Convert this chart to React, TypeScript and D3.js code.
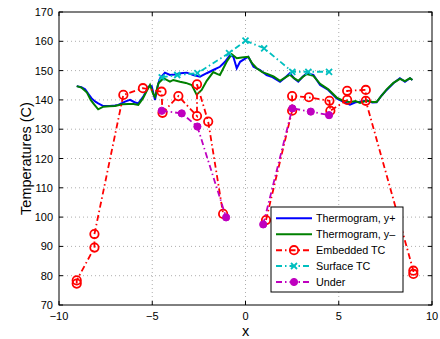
import React from "react";
import * as d3 from "d3";

const xTicks = [-10, -5, 0, 5, 10];
const yTicks = [70, 80, 90, 100, 110, 120, 130, 140, 150, 160, 170];

const bluX = [-9.05,-8.8,-8.6,-8.4,-8.25,-8.05,-7.9,-7.62,-7.27,-7.0,-6.82,-6.46,-6.19,-5.95,-5.75,-5.48,-5.21,-5.03,-4.85,-4.7,-4.58,-4.32,-4.05,-3.8,-3.51,-3.15,-2.8,-2.44,-2.08,-1.73,-1.37,-1.1,-0.83,-0.65,-0.47,-0.29,0,0.15,0.43,0.78,1.13,1.4,1.85,2.1,2.38,2.6,2.83,3.05,3.28,3.64,4.0,4.44,4.89,5.2,5.6,5.9,6.14,6.5,6.8,7.03,7.3,7.57,7.93,8.28,8.55,8.82,8.95];
const bluY = [144.7,144.3,143.6,141.8,140.5,139.4,138.8,137.9,137.9,138.1,138.3,139.4,140,139.2,138.8,141.1,144.5,144.7,140,145,147.4,149.3,148.5,148.7,149.1,149.3,148.5,147.9,149.1,150.2,151.3,153,155.3,154.7,150.8,153,154.2,154.7,151.3,150.2,148.5,147.9,146.2,147.5,149.1,147.4,146.2,147.8,149.1,148.5,145.1,143.4,140.5,139.5,138.4,139.2,139.4,139.8,139.1,139.2,141.5,143.4,145.7,147.4,146.2,147.4,146.8];

const grnX = [-9.05,-8.8,-8.5,-8.3,-8.16,-7.9,-7.62,-7.3,-7.0,-6.6,-6.28,-6.0,-5.75,-5.5,-5.3,-5.12,-4.95,-4.85,-4.67,-4.4,-4.05,-3.87,-3.51,-3.2,-2.88,-2.62,-2.35,-2.08,-1.73,-1.5,-1.37,-1.01,-0.74,-0.47,-0.2,0.15,0.35,0.6,0.9,1.2,1.5,1.85,2.1,2.38,2.6,2.83,3.1,3.28,3.64,4.0,4.44,4.89,5.2,5.6,5.9,6.14,6.5,6.8,7.03,7.3,7.57,7.93,8.28,8.55,8.82,8.95];
const grnY = [144.7,144.2,142.5,140.0,138.8,136.8,137.7,137.8,137.9,138.5,138.6,138.6,138.3,140.5,143,145.1,142.0,141.0,145.7,147.4,146.2,146.8,146.2,145.8,145.1,141.8,143.4,146.5,149.5,148.8,148.5,153,155.6,154.2,154.5,154.7,152.5,150.8,149.5,148.8,148.0,146.5,147.5,148.6,147.4,146.5,148.0,148.8,148.2,145.5,143.6,140.8,139.8,139.2,139.6,139.0,139.8,139.3,139.3,141.5,143.6,145.8,147.2,146.4,147.4,146.8];

const embX = [-9.05,-9.05,-8.1,-8.1,-6.55,-5.5,-4.5,-4.45,-3.6,-2.6,-2.6,-2.0,-1.2,1.1,2.5,2.5,3.4,4.5,4.55,5.45,5.45,6.45,6.45,9.0,9.0];
const embY = [77.3,78.4,89.6,94.2,141.7,144.0,142.8,135.6,141.3,134.5,145.3,132.6,101.1,99.0,136.3,141.3,140.9,139.7,136.3,140.0,143.1,143.4,139.7,81.7,80.6];

const surfX = [-4.49,-3.66,-2.58,-0.88,0,1.0,2.51,3.37,4.48];
const surfY = [147.7,148.5,149.1,156.0,160.2,157.6,149.6,149.6,149.6];

const undX = [-4.49,-3.42,-2.58,-1.04,0.95,2.51,3.5,4.48];
const undY = [136.3,135.4,130.9,99.9,97.5,137.1,136.0,134.8];

const legendLabels = ["Thermogram, y+", "Thermogram, y\u2013", "Embedded TC", "Surface TC", "Under"];

const W = 440, H = 339;
const L = 59, R = 432, T = 12, B = 305;
const font = "'Liberation Sans', Arial, Helvetica, sans-serif";
const dashDot = "6,3,1.5,3";

export default function App() {
  const x = d3.scaleLinear().domain([-10, 10]).range([L, R]);
  const y = d3.scaleLinear().domain([70, 170]).range([B, T]);
  const line = (xs: number[], ys: number[], keep: (v: number) => boolean = () => true) => {
    const idx = xs.map((_, i) => i).filter((i) => keep(xs[i]));
    return d3.line<number>().x((i) => x(xs[i])).y((i) => y(ys[i]))(idx) || "";
  };
  const neg = (v: number) => v < 0;
  const pos = (v: number) => v > 0;

  const circleMarker = (cx: number, cy: number, k: string) => (
    <circle key={k} cx={cx} cy={cy} r={4.2} fill="none" stroke="#ff0000" strokeWidth={1.8} />
  );
  const xMarker = (cx: number, cy: number, k: string) => (
    <path key={k} d={`M${cx - 3},${cy - 3}L${cx + 3},${cy + 3}M${cx - 3},${cy + 3}L${cx + 3},${cy - 3}`} stroke="#00bfbf" strokeWidth={1.8} />
  );
  const dotMarker = (cx: number, cy: number, k: string) => (
    <circle key={k} cx={cx} cy={cy} r={3.6} fill="#bf00bf" stroke="#bf00bf" strokeWidth={1} />
  );

  const legX = 271, legY = 207, legW = 132, legH = 85;
  const rows = [218.3, 234.2, 250.2, 266, 282];
  const colors = ["#0000ff", "#008000", "#ff0000", "#00bfbf", "#bf00bf"];

  return (
    <svg width={W} height={H} style={{ position: "absolute", left: 0, top: 0, background: "#fff" }} fontFamily={font}>
      <rect x={0} y={0} width={W} height={H} fill="#fff" />
      {xTicks.slice(1, -1).map((t) => (
        <line key={"gx" + t} x1={x(t)} x2={x(t)} y1={T} y2={B} stroke="#999" strokeWidth={0.8} strokeDasharray="1,3" />
      ))}
      {yTicks.slice(1, -1).map((t) => (
        <line key={"gy" + t} x1={L} x2={R} y1={y(t)} y2={y(t)} stroke="#999" strokeWidth={0.8} strokeDasharray="1,3" />
      ))}
      {xTicks.map((t) => (
        <g key={"tx" + t}>
          <line x1={x(t)} x2={x(t)} y1={B} y2={B - 4} stroke="#000" />
          <line x1={x(t)} x2={x(t)} y1={T} y2={T + 4} stroke="#000" />
          <text x={x(t)} y={319.5} fontSize={11} textAnchor="middle">{t < 0 ? "\u2212" + Math.abs(t) : t}</text>
        </g>
      ))}
      {yTicks.map((t) => (
        <g key={"ty" + t}>
          <line x1={L} x2={L + 4} y1={y(t)} y2={y(t)} stroke="#000" />
          <line x1={R} x2={R - 4} y1={y(t)} y2={y(t)} stroke="#000" />
          <text x={L - 6} y={y(t) + 4} fontSize={11} textAnchor="end">{t}</text>
        </g>
      ))}
      <path d={line(bluX, bluY)} fill="none" stroke="#0000ff" strokeWidth={2} />
      <path d={line(grnX, grnY)} fill="none" stroke="#008000" strokeWidth={2} />
      <path d={line(embX, embY, neg)} fill="none" stroke="#ff0000" strokeWidth={1.8} strokeDasharray={dashDot} />
      <path d={line(embX, embY, pos)} fill="none" stroke="#ff0000" strokeWidth={1.8} strokeDasharray={dashDot} />
      {embX.map((v, i) => circleMarker(x(v), y(embY[i]), "e" + i))}
      <path d={line(surfX, surfY)} fill="none" stroke="#00bfbf" strokeWidth={1.8} strokeDasharray={dashDot} />
      {surfX.map((v, i) => xMarker(x(v), y(surfY[i]), "s" + i))}
      <path d={line(undX, undY, neg)} fill="none" stroke="#bf00bf" strokeWidth={1.8} strokeDasharray={dashDot} />
      <path d={line(undX, undY, pos)} fill="none" stroke="#bf00bf" strokeWidth={1.8} strokeDasharray={dashDot} />
      {undX.map((v, i) => dotMarker(x(v), y(undY[i]), "u" + i))}
      <rect x={L} y={T} width={R - L} height={B - T} fill="none" stroke="#000" strokeWidth={1} />
      <text x={x(0)} y={336} fontSize={14.5} textAnchor="middle">x</text>
      <text transform={`translate(31,${(T + B) / 2}) rotate(-90)`} fontSize={14.5} textAnchor="middle">Temperatures (C)</text>
      <rect x={legX} y={legY} width={legW} height={legH} fill="#fff" stroke="#000" strokeWidth={1} />
      {legendLabels.map((lab, i) => {
        const yy = rows[i];
        const dash = i < 2 ? undefined : dashDot;
        return (
          <g key={"lg" + i}>
            <line x1={276} x2={312} y1={yy} y2={yy} stroke={colors[i]} strokeWidth={2} strokeDasharray={dash} />
            {i === 2 && circleMarker(294, yy, "lm2")}
            {i === 3 && xMarker(294, yy, "lm3")}
            {i === 4 && dotMarker(294, yy, "lm4")}
            <text x={316} y={yy + 3.8} fontSize={10.8}>{lab}</text>
          </g>
        );
      })}
    </svg>
  );
}
